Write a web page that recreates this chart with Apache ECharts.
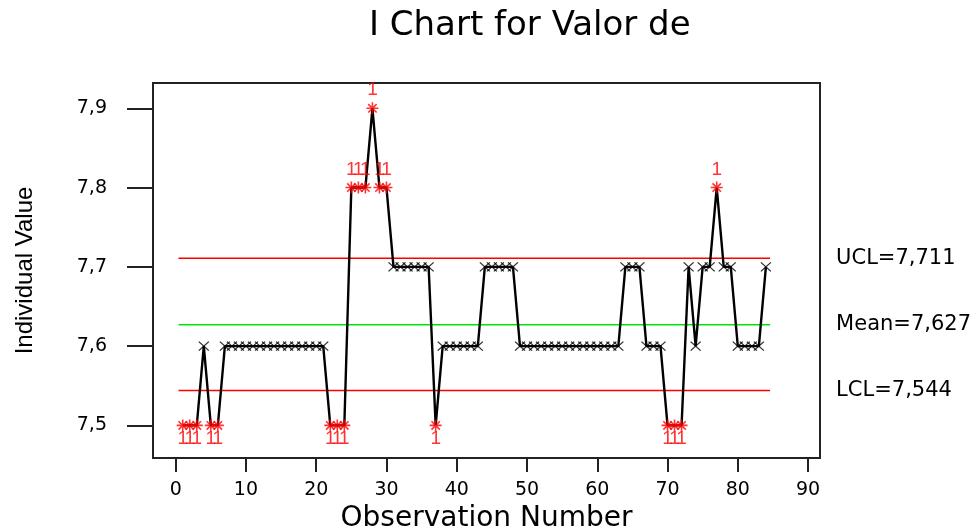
<!DOCTYPE html>
<html>
<head>
<meta charset="utf-8">
<script src="https://cdn.jsdelivr.net/npm/echarts@6/dist/echarts.min.js"></script>
<style>html,body{margin:0;padding:0;background:#fff;}#c{width:979px;height:531px;}</style>
</head>
<body>
<div id="c"></div>
<script>
// Individual values, observations 1..84
var values = [
  7.5, 7.5, 7.5, 7.6, 7.5, 7.5,
  7.6, 7.6, 7.6, 7.6, 7.6, 7.6, 7.6, 7.6, 7.6, 7.6, 7.6, 7.6, 7.6, 7.6, 7.6,
  7.5, 7.5, 7.5,
  7.8, 7.8, 7.8, 7.9, 7.8, 7.8,
  7.7, 7.7, 7.7, 7.7, 7.7, 7.7,
  7.5,
  7.6, 7.6, 7.6, 7.6, 7.6, 7.6,
  7.7, 7.7, 7.7, 7.7, 7.7,
  7.6, 7.6, 7.6, 7.6, 7.6, 7.6, 7.6, 7.6, 7.6, 7.6, 7.6, 7.6, 7.6, 7.6, 7.6,
  7.7, 7.7, 7.7,
  7.6, 7.6, 7.6,
  7.5, 7.5, 7.5,
  7.7, 7.6, 7.7, 7.7, 7.8, 7.7, 7.7,
  7.6, 7.6, 7.6, 7.6,
  7.7
];
var UCL = 7.711, MEAN = 7.627, LCL = 7.544;
var limitSpan = [0.4, 84.6];
var xTicks = [0, 10, 20, 30, 40, 50, 60, 70, 80, 90];
var yTicks = [7.5, 7.6, 7.7, 7.8, 7.9];

var pts = values.map(function (v, i) { return [i + 1, v]; });
var inCtrl = pts.filter(function (p) { return p[1] <= UCL && p[1] >= LCL; });
var outCtrl = pts.filter(function (p) { return p[1] > UCL || p[1] < LCL; }).map(function (p) {
  var above = p[1] > UCL;
  return { value: p, label: { position: above ? 'top' : 'bottom', distance: above ? 2 : -3 } };
});

var FONT = 'DejaVu Sans';
var chart = echarts.init(document.getElementById('c'), null, { renderer: 'canvas' });

function limitSeries(name, val, color, text) {
  return {
    name: name, type: 'line', data: [[limitSpan[0], val], [limitSpan[1], val]],
    symbol: 'none', silent: true, z: 1,
    lineStyle: { color: color, width: 1.5 },
    endLabel: { show: true, formatter: text, distance: 66, color: '#000', fontFamily: FONT, fontSize: 21 }
  };
}

chart.setOption({
  animation: false,
  backgroundColor: '#fff',
  title: {
    text: 'I Chart for Valor de', left: 364, top: 4,
    textStyle: { fontFamily: FONT, fontSize: 34, fontWeight: 'normal', color: '#000' }
  },
  grid: {
    left: 153, top: 83, width: 667, height: 375, show: true, borderColor: '#222', borderWidth: 2,
    containLabel: false, outerBoundsMode: 'none'
  },
  xAxis: {
    type: 'value', min: -3.23, max: 91.7,
    name: 'Observation Number', nameLocation: 'middle', nameGap: 46,
    nameTextStyle: { fontFamily: FONT, fontSize: 28, color: '#000' },
    axisLine: { show: true, onZero: false, lineStyle: { color: '#222', width: 2 } },
    axisTick: { show: true, length: 14, customValues: xTicks, lineStyle: { color: '#222', width: 2 } },
    axisLabel: { customValues: xTicks, margin: 23, fontFamily: FONT, fontSize: 19, color: '#000' },
    splitLine: { show: false }
  },
  yAxis: {
    type: 'value', min: 7.4589, max: 7.9319,
    name: 'Individual Value', nameLocation: 'middle', nameGap: 116,
    nameTextStyle: { fontFamily: 'Liberation Sans', fontSize: 24, color: '#000' },
    axisLine: { show: true, onZero: false, lineStyle: { color: '#222', width: 2 } },
    axisTick: { show: true, length: 26, customValues: yTicks, lineStyle: { color: '#222', width: 2 } },
    axisLabel: {
      customValues: yTicks, margin: 46, fontFamily: FONT, fontSize: 19, color: '#000',
      formatter: function (v) { return v.toFixed(1).replace('.', ','); }
    },
    splitLine: { show: false }
  },
  series: [
    limitSeries('UCL', UCL, '#ff0000', 'UCL=7,711'),
    limitSeries('Mean', MEAN, '#00e600', 'Mean=7,627'),
    limitSeries('LCL', LCL, '#ff0000', 'LCL=7,544'),
    {
      name: 'Individual', type: 'line', data: pts, symbol: 'none', z: 3,
      lineStyle: { color: '#000', width: 2.4 }
    },
    {
      name: 'In control', type: 'scatter', data: inCtrl, z: 4,
      symbol: 'path://M0,0L10,10M10,0L0,10', symbolSize: [10, 9],
      itemStyle: { color: 'transparent', borderColor: '#000', borderWidth: 1.3 }
    },
    {
      name: 'Out of control', type: 'scatter', data: outCtrl, z: 5,
      symbol: 'path://M0,5L10,5M5,0L5,10M1.5,1.5L8.5,8.5M8.5,1.5L1.5,8.5', symbolSize: 12,
      itemStyle: { color: 'transparent', borderColor: '#ff0000', borderWidth: 1.6 },
      label: { show: true, formatter: '1', color: '#ff0000', fontFamily: 'Liberation Sans', fontSize: 19 }
    }
  ]
});
</script>
</body>
</html>
